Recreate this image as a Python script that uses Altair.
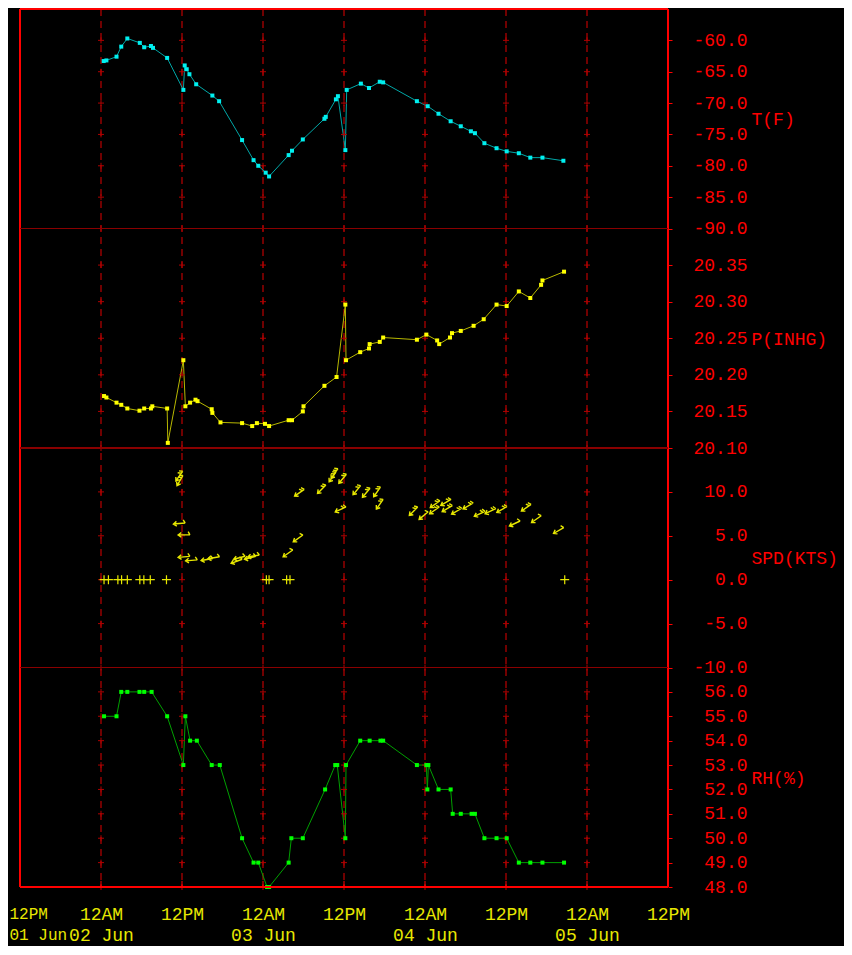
import altair as alt
import pandas as pd

# ---------------- data (hours since 02 Jun 00:00) ----------------
t_hours = [0.4, 0.8, 2.3, 3.0, 3.9, 5.75, 6.4, 7.4, 7.7, 9.8, 12.2, 12.4, 12.7, 13.1, 14.1, 16.5, 17.5,
           20.9, 22.6, 23.3, 24.4, 24.9, 27.8, 28.3, 29.9, 33.1, 33.3, 34.8, 35.1, 36.2, 36.4, 38.5,
           39.7, 41.3, 41.8, 46.8, 48.4, 50.0, 51.8, 53.3, 54.8, 55.4, 56.8, 58.6, 60.1, 61.9, 63.6,
           65.4, 68.5]
t_vals = [-63.3, -63.2, -62.6, -61.0, -59.7, -60.4, -61.1, -60.9, -61.2, -62.8, -67.9, -64.0, -64.6,
          -65.4, -67.0, -68.8, -69.7, -75.9, -79.1, -80.0, -81.1, -81.7, -78.3, -77.6, -75.8, -72.5,
          -72.2, -69.4, -68.9, -77.5, -67.9, -66.9, -67.6, -66.6, -66.7, -69.7, -70.5, -71.7, -72.9,
          -73.7, -74.5, -74.8, -76.4, -77.2, -77.7, -78.0, -78.7, -78.7, -79.2]

p_hours = [0.45, 0.8, 2.3, 3.0, 3.9, 5.7, 6.4, 7.4, 7.6, 9.8, 9.9, 12.2, 12.5, 13.2, 14.0, 14.3, 16.4,
           16.5, 17.7, 20.9, 22.4, 23.1, 24.3, 24.9, 27.8, 28.3, 29.9, 30.0, 33.1, 34.9, 36.2, 36.3,
           38.4, 39.7, 39.8, 41.3, 41.8, 46.8, 48.2, 49.8, 50.1, 51.7, 52.0, 53.3, 55.2, 56.7, 58.6,
           60.1, 61.9, 63.6, 65.2, 65.4, 68.6]
p_vals = [20.171, 20.169, 20.162, 20.159, 20.154, 20.151, 20.154, 20.154, 20.157, 20.154, 20.107,
          20.220, 20.157, 20.162, 20.166, 20.164, 20.153, 20.148, 20.135, 20.134, 20.130, 20.134,
          20.133, 20.130, 20.138, 20.138, 20.150, 20.157, 20.185, 20.197, 20.296, 20.220, 20.231,
          20.236, 20.242, 20.245, 20.251, 20.248, 20.255, 20.247, 20.242, 20.251, 20.257, 20.260,
          20.267, 20.276, 20.296, 20.294, 20.314, 20.305, 20.323, 20.329, 20.341]

rh_hours = [0.45, 2.3, 3.0, 3.9, 5.7, 6.4, 7.5, 9.8, 12.2, 12.5, 13.2, 14.2, 16.4, 17.6, 20.9, 22.6,
            23.3, 24.6, 24.9, 27.8, 28.2, 29.9, 33.2, 34.7, 35.0, 36.2, 36.3, 38.4, 39.8, 41.4, 41.8,
            46.8, 48.2, 48.35, 48.5, 50.0, 51.8, 52.1, 53.3, 54.9, 55.4, 56.8, 58.6, 60.1, 61.9, 63.6,
            65.4, 68.6]
rh_vals = [55, 55, 56, 56, 56, 56, 56, 55, 53, 55, 54, 54, 53, 53, 50, 49, 49, 48, 48, 49, 50, 50,
           52, 53, 53, 50, 53, 54, 54, 54, 54, 53, 53, 52, 53, 52, 52, 51, 51, 51, 51, 50, 50, 50,
           49, 49, 49, 49]

w_hours = [11.6, 11.7, 11.6, 12.3, 12.3, 13.4, 15.7, 16.7, 20.1, 20.5, 22.1, 22.6, 27.7, 29.2, 29.4,
           32.7, 34.3, 34.6, 35.8, 35.5, 37.9, 39.3, 40.9, 41.3, 46.3, 47.8, 49.4, 49.5, 51.1, 51.3,
           52.7, 54.4, 56.1, 57.7, 59.4, 61.3, 63.0, 64.5, 67.8]
w_spd = [11.8, 11.3, 6.4, 5.1, 2.6, 2.2, 2.3, 2.5, 2.1, 2.5, 2.5, 2.7, 3.0, 4.7, 9.9, 10.3, 11.7, 12.1,
         11.5, 8.0, 10.2, 9.9, 10.0, 8.6, 7.8, 7.3, 7.9, 8.6, 8.8, 8.1, 7.8, 8.4, 7.5, 7.8, 8.0, 6.4,
         8.2, 6.9, 5.6]
w_dir = [215, 210, 265, 270, 265, 265, 260, 260, 250, 255, 255, 260, 235, 235, 235, 225, 215, 215,
         220, 245, 220, 220, 215, 215, 225, 230, 235, 235, 240, 240, 240, 240, 245, 245, 240, 245,
         235, 235, 240]

calm_hours = [0.45, 1.1, 2.5, 3.05, 3.9, 5.75, 6.35, 7.3, 9.7, 24.5, 24.9, 27.5, 28.0, 68.7]

x_tick_hours = [-12, 0, 12, 24, 36, 48, 60, 72, 84]
grid_hours = [0, 12, 24, 36, 48, 60, 72]
t_ticks = [-90, -85, -80, -75, -70, -65, -60]
p_ticks = [20.10, 20.15, 20.20, 20.25, 20.30, 20.35]
s_ticks = [-10, -5, 0, 5, 10]
rh_ticks = [48, 49, 50, 51, 52, 53, 54, 55, 56]

# ---------------- helpers ----------------
BASE_MS = 1717286400000  # 2024-06-02T00:00:00Z
FONT = "Liberation Mono"
FS = 18
RED = "#ff0000"
DARK = "#8a0000"
YEL = "#e8e800"
W, H = 648, 878
PH = H / 4.0


def ms(h):
    return BASE_MS + h * 3600000.0


def times(hours):
    return [ms(h) for h in hours]


xscale = alt.Scale(type="utc", domain=[ms(-12), ms(84)])
X = alt.X("time:T", scale=xscale)

label_expr = ("[utcFormat(datum.value, '%I%p'), "
              "(utchours(datum.value) == 0 || datum.index == 0) ? "
              "utcFormat(datum.value, '%d %b') : '']")
xaxis = alt.Axis(values=[ms(h) for h in x_tick_hours], labelExpr=label_expr, grid=False,
                 domain=False, ticks=False,
                 labelColor=YEL, labelFont=FONT,
                 labelFontSize={"condition": {"test": "datum.index == 0", "value": 16},
                                "value": FS},
                 labelPadding=18.5, labelLineHeight=20.5, labelOverlap=False, labelAngle=0,
                 labelAlign={"condition": {"test": "datum.index == 0", "value": "left"},
                             "value": "center"},
                 labelOffset={"condition": {"test": "datum.index == 0", "value": -11},
                              "value": 0},
                 labelBaseline="top", title=None)


def pscale(dom, idx):
    top = PH * idx
    return alt.Scale(domain=dom, range=[top + PH, top], zero=False, nice=False)


def yaxis(title, values, fmt, idx):
    return alt.Axis(orient="right", values=values, format=fmt, title=title, titleAngle=0,
                    titleAlign="left", titleBaseline="middle", titleX=83, titleY=PH * idx + PH / 2 + 1,
                    titleColor=RED, titleFont=FONT, titleFontSize=FS, titleFontWeight="normal",
                    labelColor=RED, labelFont=FONT, labelFontSize=FS, labelAlign="right",
                    labelBaseline="middle", labelPadding=75, tickSize=4, tickColor=RED,
                    domain=False, grid=False, labelOverlap=False, offset=0)


CROSS = "M-1,0L1,0M0,-1L0,1"
BARB1 = "M0,1L0,-1M-0.4,-0.45L0,-1L0.4,-0.45M0,1L0.55,0.7"
BARB2 = "M0,1L0,-1M-0.4,-0.45L0,-1L0.4,-0.45M0,1L0.55,0.7M0,0.6L0.55,0.3"


def cross_df(ticks):
    rows = [{"time": ms(h), "val": v} for h in grid_hours for v in ticks]
    return pd.DataFrame(rows)


def series_layers(df, scale, axis, line_color, pt_color, ticks):
    line = alt.Chart(df).mark_line(color=line_color, strokeWidth=1).encode(
        x=X, y=alt.Y("val:Q", scale=scale, axis=axis))
    cr = alt.Chart(cross_df(ticks)).mark_point(shape=CROSS, size=36, filled=False, color="#b00000",
                                               strokeWidth=1, opacity=1).encode(
        x=X, y=alt.Y("val:Q", scale=scale, axis=None))
    pts = alt.Chart(df).mark_square(color=pt_color, size=16, opacity=1).encode(
        x=X, y=alt.Y("val:Q", scale=scale, axis=None))
    return [line, cr, pts]


def hrule(df, value, scale, color, width):
    return alt.Chart(df).mark_rule(color=color, strokeWidth=width).encode(
        y=alt.YDatum(value, scale=scale, type="quantitative", axis=None))


# ---------------- panels ----------------
t_df = pd.DataFrame({"time": times(t_hours), "val": t_vals})
p_df = pd.DataFrame({"time": times(p_hours), "val": p_vals})
rh_df = pd.DataFrame({"time": times(rh_hours), "val": rh_vals})
w_df = pd.DataFrame({"time": times(w_hours), "val": w_spd, "dir": w_dir,
                     "kind": ["b" if s >= 7.5 else "a" for s in w_spd]})
c_df = pd.DataFrame({"time": times(calm_hours), "val": [0.0] * len(calm_hours)})
g_df = pd.DataFrame({"time": times(grid_hours)})
frame_df = pd.DataFrame({"time": times([-12, 84])})

ts = pscale([-90, -55], 0)
ps = pscale([20.10, 20.40], 1)
ss = pscale([-10, 15], 2)
rs = pscale([48, 57], 3)

layers = []
# dashed vertical grid through all four panels
layers.append(alt.Chart(g_df).mark_rule(color="#e00000", strokeWidth=1, strokeDash=[7, 5]).encode(
    x=alt.X("time:T", scale=xscale, axis=xaxis)))
layers.append(alt.Chart(frame_df).mark_rule(color=RED, strokeWidth=2).encode(x=X))

layers += series_layers(t_df, ts, yaxis("T(F)", t_ticks, ".1f", 0), "#00a8a8", "#00f0f0", t_ticks)
layers.append(hrule(t_df, -90, ts, DARK, 1))
layers.append(hrule(t_df, -55, ts, RED, 2))

layers += series_layers(p_df, ps, yaxis("P(INHG)", p_ticks, ".2f", 1), "#b8b800", "#ffff00", p_ticks)
layers.append(hrule(p_df, 20.10, ps, DARK, 1))

layers.append(alt.Chart(cross_df(s_ticks)).mark_point(shape=CROSS, size=36, filled=False,
                                                      color="#b00000", strokeWidth=1,
                                                      opacity=1).encode(
    x=X, y=alt.Y("val:Q", scale=ss, axis=yaxis("SPD(KTS)", s_ticks, ".1f", 2))))
layers.append(alt.Chart(c_df).mark_point(shape=CROSS, size=81, filled=False, color=YEL,
                                         strokeWidth=1.2, opacity=1).encode(
    x=X, y=alt.Y("val:Q", scale=ss, axis=None)))
layers.append(alt.Chart(w_df).mark_point(filled=False, color=YEL, strokeWidth=1.4, size=140,
                                         opacity=1).encode(
    x=X, y=alt.Y("val:Q", scale=ss, axis=None),
    shape=alt.Shape("kind:N", scale=alt.Scale(domain=["a", "b"], range=[BARB1, BARB2]), legend=None),
    angle=alt.Angle("dir:Q", scale=None)))
layers.append(hrule(c_df, -10, ss, DARK, 1))

layers += series_layers(rh_df, rs, yaxis("RH(%)", rh_ticks, ".1f", 3), "#00a000", "#00ff00", rh_ticks)
layers.append(hrule(rh_df, 48, rs, RED, 2))
layers.append(alt.Chart(g_df).mark_rule(color=RED, strokeWidth=1).encode(
    x=X, y=alt.YDatum(48, scale=rs, type="quantitative", axis=None), y2=alt.Y2Datum(48.25)))

chart = alt.layer(*layers).resolve_scale(y="independent").properties(
    width=W, height=H, autosize=alt.AutoSizeParams(type="none"),
    padding={"left": 12, "top": 1, "right": 176, "bottom": 59},
).configure(
    background="black",
    locale={"number": {"decimal": ".", "thousands": ",", "grouping": [3],
                       "currency": ["$", ""], "minus": "-"}},
).configure_view(stroke=None)

chart.save("out.html", embed_options={"renderer": "svg", "actions": False})
